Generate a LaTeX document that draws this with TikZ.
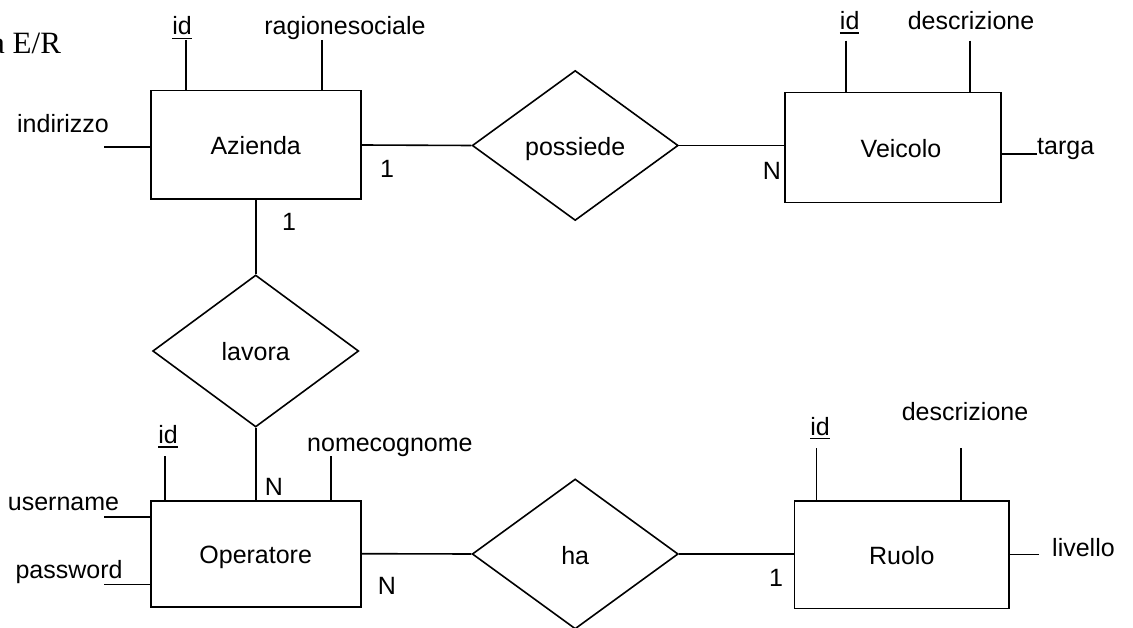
\documentclass[tikz,border=0pt]{standalone}
\usepackage{fontspec}
\setmainfont{Liberation Sans}
\newfontfamily\titlefont{Liberation Serif}
\usetikzlibrary{shapes.geometric}
% key attribute: text with a rule underneath
\newcommand\keyattr[1]{\setbox0\hbox{#1}\rlap{\rule[-4.5pt]{\wd0}{1.6pt}}\box0}

\begin{document}
\begin{tikzpicture}[x=1pt,y=-1pt,
  every node/.style={font=\fontsize{25}{30}\selectfont, inner sep=0pt},
  entity/.style={draw, rectangle, line width=1.6pt, text height=20pt, text depth=0pt},
  relation/.style={draw, diamond, line width=1.6pt, minimum width=206pt, minimum height=150pt,
    text height=20pt, text depth=0pt},
  lbl/.style={anchor=base},
  conn/.style={line width=1.6pt}]
\useasboundingbox (0,0) rectangle (1133,628);

% title fragment
\node[anchor=base west, font=\titlefont\fontsize{31}{36}\selectfont] (title) at (-9,54) {a E/R};

% entities
\node[entity, minimum width=210pt, minimum height=108.6pt] (az) at (255.7,145) {Azienda};
\node[entity, minimum width=216pt, minimum height=110pt] (vei) at (893,147.7) {\hspace*{16pt}Veicolo};
\node[entity, minimum width=210pt, minimum height=106pt] (op) at (255.7,553.7) {Operatore};
\node[entity, minimum width=214.4pt, minimum height=107.6pt] (ruo) at (901.8,554.5) {Ruolo};

% relationships
\node[relation] (pos) at (575.2,145.5) {possiede};
\node[relation, minimum height=152pt] (lav) at (255.7,351) {lavora};
\node[relation] (ha) at (575.2,554) {ha};

% relationship connectors
\draw[conn] (az.east) -- (pos.west);
\draw[conn] (pos.east) -- (pos.east -| vei.west);
\draw[conn] (az.south) -- (lav.north);
\draw[conn] (lav.south) -- (op.north);
\draw[conn] (op.east) -- (ha.west);
\draw[conn] (ha.east) -- (ha.east -| ruo.west);

% cardinalities
\node[lbl] (c1) at (387,178) {1};
\node[lbl] (c2) at (772,180) {N};
\node[lbl] (c3) at (289,230.7) {1};
\node[lbl] (c4) at (274,495) {N};
\node[lbl] (c5) at (387,594) {N};
\node[lbl] (c6) at (776,586.7) {1};

% Azienda attributes
\node[lbl] (azidl) at (182,35) {\keyattr{id}};
\node[lbl] (azrsl) at (345,35) {ragionesociale};
\node[lbl] (azindl) at (63,132.7) {indirizzo};
\coordinate (azid) at (186,40);
\coordinate (azrs) at (322,40);
\coordinate (azind) at (104,147);
\draw[conn] (azid) -- (azid |- az.north);
\draw[conn] (azrs) -- (azrs |- az.north);
\draw[conn] (azind) -- (azind -| az.west);

% Veicolo attributes
\node[lbl] (veidl) at (849.7,29.5) {\keyattr{id}};
\node[lbl] (vedesl) at (971,29.3) {descrizione};
\node[anchor=base west] (vetal) at (1037,155) {targa};
\coordinate (veid) at (846,40.7);
\coordinate (vedes) at (969.7,40.7);
\coordinate (veta) at (1037,154.3);
\draw[conn] (veid) -- (veid |- vei.north);
\draw[conn] (vedes) -- (vedes |- vei.north);
\draw[conn] (veta) -- (veta -| vei.east);

% Operatore attributes
\node[lbl] (opidl) at (168,443.3) {\keyattr{id}};
\node[anchor=base west] (opncl) at (307,451.7) {nomecognome};
\node[lbl] (opusl) at (63.5,510) {username};
\node[lbl] (oppwl) at (69,578) {password};
\coordinate (opid) at (164.7,456);
\coordinate (opnc) at (330.7,456);
\coordinate (opus) at (104,516.7);
\coordinate (oppw) at (104,584.3);
\draw[conn] (opid) -- (opid |- op.north);
\draw[conn] (opnc) -- (opnc |- op.north);
\draw[conn] (opus) -- (opus -| op.west);
\draw[conn] (oppw) -- (oppw -| op.west);

% Ruolo attributes
\node[lbl] (ruidl) at (820,435) {\keyattr{id}};
\node[lbl] (rudesl) at (965,420.7) {descrizione};
\node[anchor=base west] (rulvl) at (1052,556) {livello};
\coordinate (ruid) at (816.5,448.3);
\coordinate (rudes) at (961,448.3);
\coordinate (rulv) at (1039,554.3);
\draw[conn] (ruid) -- (ruid |- ruo.north);
\draw[conn] (rudes) -- (rudes |- ruo.north);
\draw[conn] (rulv) -- (rulv -| ruo.east);
\end{tikzpicture}
\end{document}
